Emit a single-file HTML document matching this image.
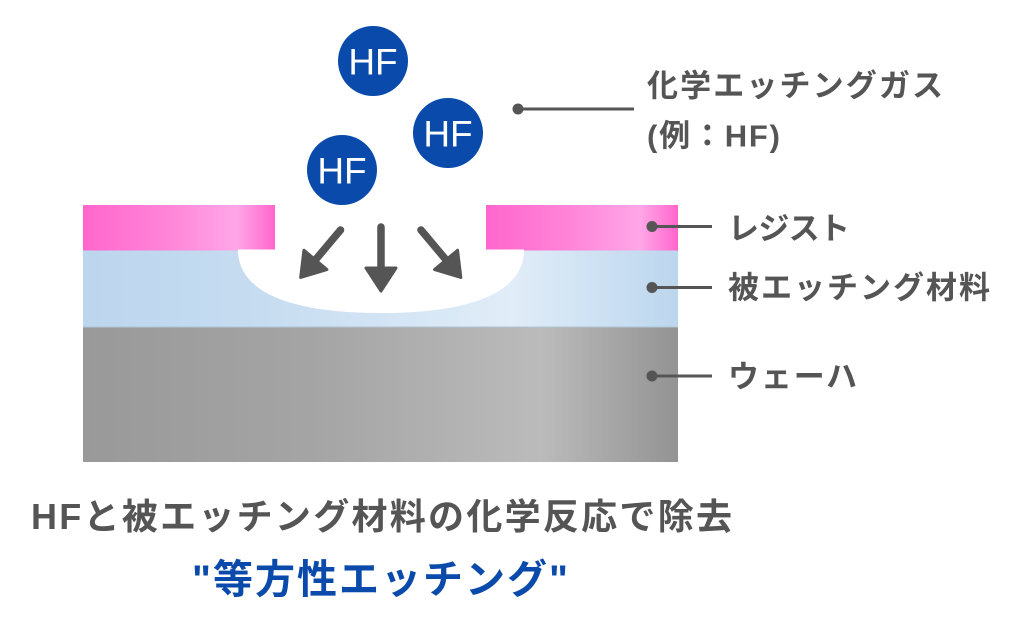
<!DOCTYPE html>
<html>
<head>
<meta charset="utf-8">
<style>
html,body{margin:0;padding:0;background:#fff;}
svg{display:block;}
.t{font-family:"Liberation Sans","Noto Sans CJK JP",sans-serif;font-weight:bold;fill:#555;}
.hf{font-family:"Liberation Sans",sans-serif;fill:#fff;font-size:37px;}
</style>
</head>
<body>
<svg width="1024" height="638" viewBox="0 0 1024 638" xmlns="http://www.w3.org/2000/svg">
  <defs>
    <linearGradient id="pink" x1="0" y1="0" x2="1" y2="0">
      <stop offset="0" stop-color="#ff66cc"/>
      <stop offset="0.45" stop-color="#ff85d8"/>
      <stop offset="0.8" stop-color="#ffa7e8"/>
      <stop offset="1" stop-color="#ff66cc"/>
    </linearGradient>
    <linearGradient id="blue" x1="0" y1="0" x2="1" y2="0">
      <stop offset="0" stop-color="#bcd6ee"/>
      <stop offset="0.3" stop-color="#c6dcf0"/>
      <stop offset="0.72" stop-color="#e1edf8"/>
      <stop offset="1" stop-color="#bcd6ee"/>
    </linearGradient>
    <linearGradient id="gray" x1="0" y1="0" x2="1" y2="0">
      <stop offset="0" stop-color="#999999"/>
      <stop offset="0.4" stop-color="#a5a5a5"/>
      <stop offset="0.77" stop-color="#bbbbbb"/>
      <stop offset="1" stop-color="#939393"/>
    </linearGradient>
  </defs>

  <!-- layers -->
  <rect x="83" y="327" width="595" height="135" fill="url(#gray)"/>
  <rect x="83" y="250" width="595" height="77.5" fill="url(#blue)"/>
  <line x1="83" y1="327" x2="678" y2="327" stroke="#b0c4d6" stroke-width="1"/>
  <rect x="83" y="205" width="192" height="45.5" fill="url(#pink)"/>
  <rect x="486" y="205" width="192" height="45.5" fill="url(#pink)"/>

  <!-- cavity -->
  <path d="M238,249.5 L524,249.5 C524,300 452,313 381,313 C310,313 238,300 238,249.5 Z" fill="#fff"/>

  <!-- arrows -->
  <g fill="#555" stroke="#555" stroke-linejoin="round" stroke-linecap="round">
    <g transform="translate(381,227)">
      <line x1="0" y1="0" x2="0" y2="42" stroke-width="7.5"/>
      <polygon points="-15,41 15,41 0,64" stroke-width="3"/>
    </g>
    <g transform="translate(340.5,230) rotate(40)">
      <line x1="0" y1="0" x2="0" y2="40" stroke-width="7.5"/>
      <polygon points="-15,39 15,39 0,62" stroke-width="3"/>
    </g>
    <g transform="translate(421,230) rotate(-40)">
      <line x1="0" y1="0" x2="0" y2="40" stroke-width="7.5"/>
      <polygon points="-15,39 15,39 0,62" stroke-width="3"/>
    </g>
  </g>

  <!-- HF molecules -->
  <g fill="#0a4aab">
    <circle cx="373" cy="61" r="35"/>
    <circle cx="448" cy="133" r="35"/>
    <circle cx="342" cy="170" r="35"/>
  </g>
  <text class="hf" x="373" y="74.5" text-anchor="middle">HF</text>
  <text class="hf" x="448" y="146.5" text-anchor="middle">HF</text>
  <text class="hf" x="342" y="183.5" text-anchor="middle">HF</text>

  <!-- connectors -->
  <g stroke="#555" stroke-width="3" fill="#555">
    <line x1="518" y1="109" x2="634" y2="109"/>
    <circle cx="518" cy="109" r="5.5" stroke="none"/>
    <line x1="652" y1="226.5" x2="712" y2="226.5"/>
    <circle cx="652" cy="226.5" r="5.5" stroke="none"/>
    <line x1="652" y1="287.5" x2="712" y2="287.5"/>
    <circle cx="652" cy="287.5" r="5.5" stroke="none"/>
    <line x1="652" y1="376" x2="712" y2="376"/>
    <circle cx="652" cy="376" r="5.5" stroke="none"/>
  </g>

  <!-- labels -->
  <text class="t" x="647" y="96.5" font-size="31" textLength="296" lengthAdjust="spacing">化学エッチングガス</text>
  <text class="t" x="647" y="146.5" font-size="31" textLength="133" lengthAdjust="spacing">(例：HF)</text>
  <text class="t" x="728" y="239.5" font-size="31" textLength="122" lengthAdjust="spacing">レジスト</text>
  <text class="t" x="728" y="298.5" font-size="31" textLength="262" lengthAdjust="spacing">被エッチング材料</text>
  <text class="t" x="728" y="387.5" font-size="31" textLength="129" lengthAdjust="spacing">ウェーハ</text>

  <!-- bottom captions -->
  <text class="t" x="31" y="529" font-size="36" textLength="701" lengthAdjust="spacing">HFと被エッチング材料の化学反応で除去</text>
  <text class="t" x="192" y="593" font-size="40" style="fill:#0a4aab" textLength="376" lengthAdjust="spacing">"等方性エッチング"</text>
</svg>
</body>
</html>
